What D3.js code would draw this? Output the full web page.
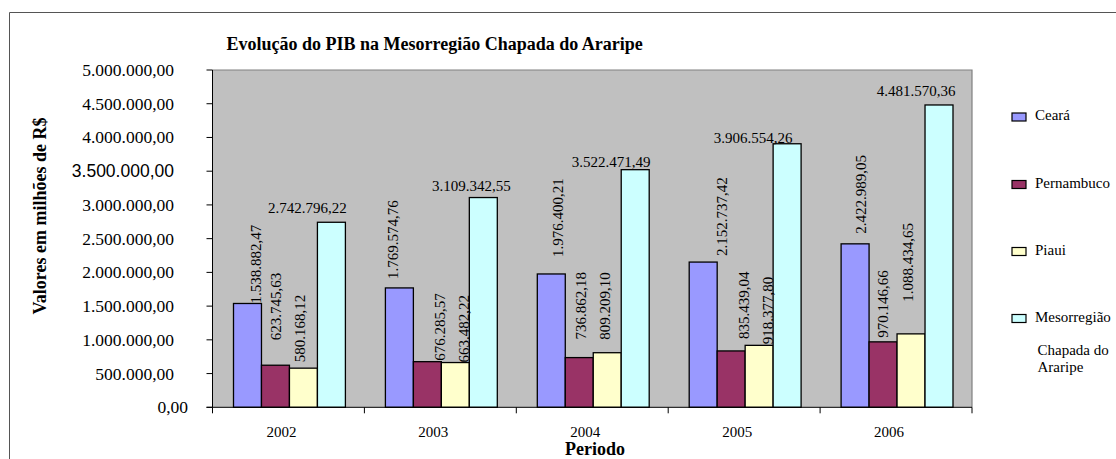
<!DOCTYPE html>
<html>
<head>
<meta charset="utf-8">
<script src="https://cdn.jsdelivr.net/npm/d3@7"></script>
<style>
  body { margin: 0; background: #fff; }
  text { font-family: "Liberation Serif", "Times New Roman", serif; fill: #000; }
</style>
</head>
<body>
<div id="chart"></div>
<script>
// data
const years = ['2002', '2003', '2004', '2005', '2006']
const series = ['Ceará', 'Pernambuco', 'Piaui', 'Mesorregião Chapada do Araripe']
const ceara = [1538882.47, 1769574.76, 1976400.21, 2152737.42, 2422989.05]
const pernambuco = [623745.63, 676285.57, 736862.18, 835439.04, 970146.66]
const piaui = [580168.12, 663482.22, 809209.10, 918377.80, 1088434.65]
const meso = [2742796.22, 3109342.55, 3522471.49, 3906554.26, 4481570.36]
const yTicks = [0, 500000, 1000000, 1500000, 2000000, 2500000, 3000000, 3500000, 4000000, 4500000, 5000000]

const values = [ceara, pernambuco, piaui, meso]
const colors = ['#9999FF', '#993366', '#FFFFCC', '#CCFFFF']

// label nudges (the labels were hand placed in the original): [dx, lift]
const labelNudge = [
    [[9, 0], [-6, 9], [7, 17], [19, 6], [6, 10]],
    [[1, 25], [13, 1], [2, 18], [13, 12], [0, 4]],
    [[-3, 6], [9, 0], [-2, 13], [8.5, 1], [-2.5, 32]],
    [[-24, 9], [-12, 7], [-24, 3], [-34, 1], [-23, 9]]
]

const W = 1116, H = 459
const plot = { left: 212.5, right: 972, top: 70, bottom: 407.3 }

const br = d3.formatLocale({ decimal: ',', thousands: '.', grouping: [3], currency: ['R$', ''] })
const fmt = br.format(',.2f')

const svg = d3.select('#chart').append('svg')
    .attr('width', W)
    .attr('height', H)

// outer frame (cropped on right and bottom)
svg.append('path')
    .attr('d', `M9.5,${H + 2} V12.5 H${W + 2}`)
    .attr('fill', 'none')
    .attr('stroke', '#555')
    .attr('stroke-width', 1)

const x0 = d3.scaleBand().domain(years).range([plot.left, plot.right])
const x1 = d3.scaleBand().domain(d3.range(series.length)).range([21, x0.bandwidth() - 19])
const y = d3.scaleLinear().domain([0, 5000000]).range([plot.bottom, plot.top])

// plot area
svg.append('rect')
    .attr('x', plot.left).attr('y', plot.top)
    .attr('width', plot.right - plot.left).attr('height', plot.bottom - plot.top)
    .attr('fill', '#C0C0C0')
svg.append('path')
    .attr('d', `M${plot.left},${plot.top} H${plot.right} V${plot.bottom}`)
    .attr('fill', 'none').attr('stroke', '#808080').attr('stroke-width', 1.2)

// bars
const groups = svg.selectAll('g.year')
    .data(years)
    .join('g')
    .attr('class', 'year')
    .attr('transform', (d) => `translate(${x0(d)},0)`)

groups.selectAll('rect')
    .data((d, i) => values.map((v, s) => ({ s: s, i: i, v: v[i] })))
    .join('rect')
    .attr('x', (d) => x1(d.s))
    .attr('y', (d) => y(d.v))
    .attr('width', x1.bandwidth())
    .attr('height', (d) => y(0) - y(d.v))
    .attr('fill', (d) => colors[d.s])
    .attr('stroke', '#000')
    .attr('stroke-width', 1.3)

// value labels
groups.selectAll('text.val')
    .data((d, i) => values.map((v, s) => ({ s: s, i: i, v: v[i] })))
    .join('text')
    .attr('class', 'val')
    .style('font-size', '15px')
    .text((d) => fmt(d.v))
    .each(function (d) {
        const [dx, lift] = labelNudge[d.s][d.i]
        const cx = x1(d.s) + x1.bandwidth() / 2 + dx
        const top = y(d.v) - lift
        const t = d3.select(this)
        if (d.s === 3) {
            t.attr('x', cx).attr('y', top).attr('text-anchor', 'middle')
        } else {
            t.attr('text-anchor', 'start')
                .attr('dy', '0.33em')
                .attr('transform', `translate(${cx},${top}) rotate(-90)`)
        }
    })

// y axis
const yAxis = svg.append('g')
yAxis.append('line')
    .attr('x1', plot.left).attr('x2', plot.left)
    .attr('y1', plot.top).attr('y2', plot.bottom)
    .attr('stroke', '#000')
yAxis.selectAll('line.tick')
    .data(yTicks)
    .join('line')
    .attr('class', 'tick')
    .attr('x1', plot.left - 6).attr('x2', plot.left)
    .attr('y1', (d) => y(d)).attr('y2', (d) => y(d))
    .attr('stroke', '#000')
yAxis.selectAll('text')
    .data(yTicks)
    .join('text')
    .attr('x', (d) => d === 0 ? 188 : 174)
    .attr('y', (d) => y(d))
    .attr('dy', '0.34em')
    .attr('text-anchor', 'end')
    .style('font-size', '17.5px')
    .style('font-family', (d) => d === 3500000 ? '"Liberation Sans", Arial, sans-serif' : null)
    .text((d) => fmt(d))

// x axis
const xAxis = svg.append('g')
xAxis.append('line')
    .attr('x1', plot.left - 6).attr('x2', plot.right)
    .attr('y1', plot.bottom).attr('y2', plot.bottom)
    .attr('stroke', '#000')
xAxis.selectAll('line.tick')
    .data(years.concat(['end']))
    .join('line')
    .attr('class', 'tick')
    .attr('x1', (d, i) => plot.left + i * x0.bandwidth())
    .attr('x2', (d, i) => plot.left + i * x0.bandwidth())
    .attr('y1', plot.bottom).attr('y2', plot.bottom + 6)
    .attr('stroke', '#000')
xAxis.selectAll('text')
    .data(years)
    .join('text')
    .attr('x', (d) => x0(d) + x0.bandwidth() / 2 - 7)
    .attr('y', 437)
    .attr('text-anchor', 'middle')
    .style('font-size', '15px')
    .text((d) => d)

// titles
svg.append('text')
    .attr('x', 226.5).attr('y', 50)
    .style('font-size', '18px').style('font-weight', 'bold')
    .text('Evolução do PIB na Mesorregião Chapada do Araripe')
svg.append('text')
    .attr('x', 595).attr('y', 455)
    .attr('text-anchor', 'middle')
    .style('font-size', '18px').style('font-weight', 'bold')
    .text('Periodo')
svg.append('text')
    .attr('transform', 'translate(46,216) rotate(-90)')
    .attr('text-anchor', 'middle')
    .style('font-size', '18px').style('font-weight', 'bold')
    .text('Valores em milhões de R$')

// legend
const legend = svg.append('g')
const legendY = [120, 187.5, 254.5, 321.5]
series.forEach((name, i) => {
    legend.append('rect')
        .attr('x', 1012).attr('y', legendY[i] - 7)
        .attr('width', 14).attr('height', 8)
        .attr('fill', colors[i]).attr('stroke', '#000').attr('stroke-width', 1.2)
    const words = i === 3 ? ['Mesorregião', 'Chapada do', 'Araripe'] : [name]
    const lineY = [0, 33.5, 50]
    words.forEach((w, k) => {
        legend.append('text')
            .attr('x', k === 0 ? 1035 : 1037.5)
            .attr('y', legendY[i] + lineY[k])
            .style('font-size', '15px')
            .text(w)
    })
})
</script>
</body>
</html>
